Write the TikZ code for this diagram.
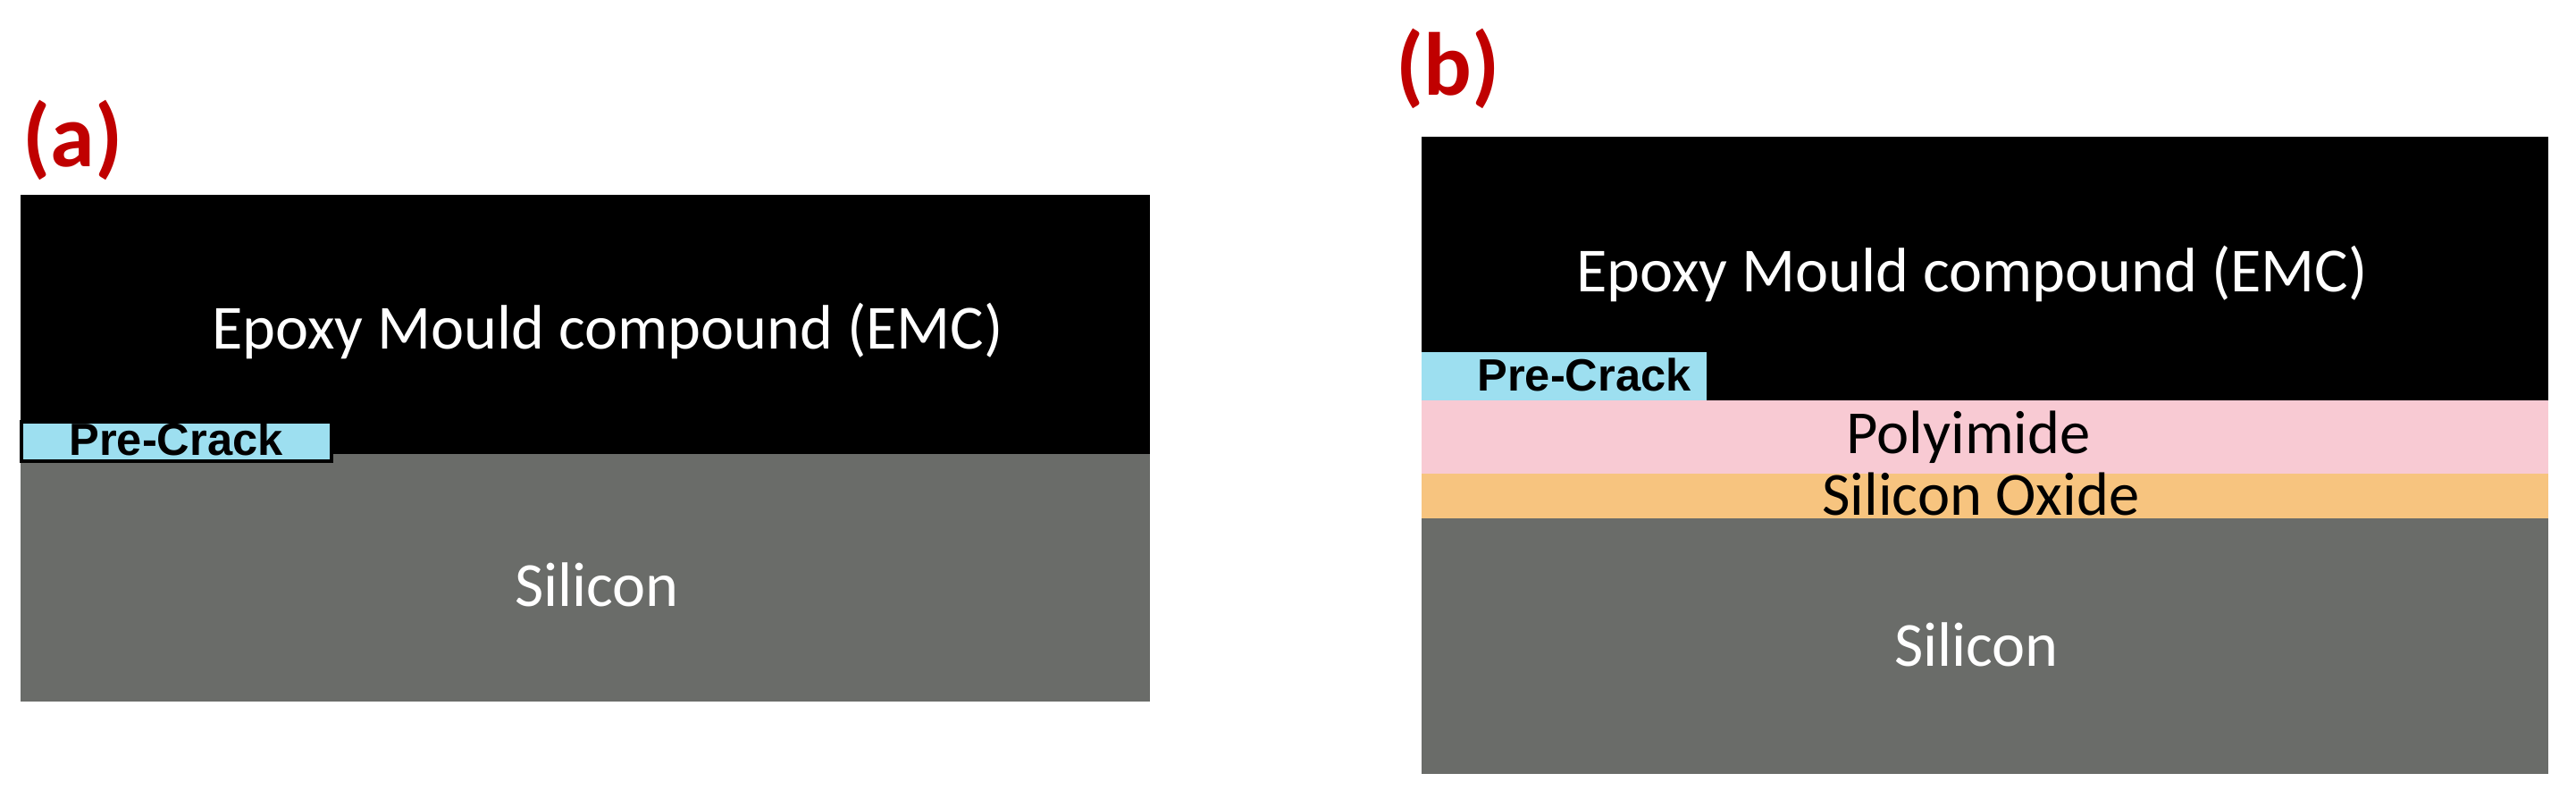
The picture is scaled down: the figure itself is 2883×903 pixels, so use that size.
\documentclass[tikz,border=0pt]{standalone}
\usepackage{fontspec}
\setmainfont{Carlito}
\newfontfamily\arialbold{Liberation Sans}[BoldFont={Liberation Sans Bold}]
\definecolor{emc}{HTML}{000000}
\definecolor{sil}{HTML}{6A6C69}
\definecolor{crack}{HTML}{9DDFF0}
\definecolor{poly}{HTML}{F8CAD3}
\definecolor{oxide}{HTML}{F7C47F}
\definecolor{lbl}{HTML}{C00000}
\tikzset{
  layertext/.style={text=white, font=\fontsize{20}{22}\selectfont, anchor=base, inner sep=0pt},
  darktext/.style={text=black, font=\fontsize{19.5}{21}\selectfont, anchor=base, inner sep=0pt},
  cracktext/.style={text=black, font=\arialbold\bfseries\fontsize{14.4}{16}\selectfont, anchor=base, inner sep=0pt},
  paneltag/.style={text=lbl, font=\bfseries\fontsize{28.5}{30}\selectfont, anchor=base west, inner sep=0pt}
}
\begin{document}
\begin{tikzpicture}[x=0.1mm,y=-0.1mm]
\useasboundingbox[fill=white] (0,0) rectangle (2883,903);
% ---- panel (a)
\fill[emc] (23,218) rectangle (1287,508);
\fill[sil] (23,508) rectangle (1287,785);
\filldraw[fill=crack, draw=black, line width=1.2pt] (24,472) rectangle (371,516);
\node[paneltag] (tagA) at (25,187) {(a)};
\node[layertext] (emcA) at (680,391) {Epoxy Mould compound (EMC)};
\node[layertext] (siA) at (668,678) {Silicon};
\node[cracktext] (pcA) at (197,509) {Pre-Crack};
% ---- panel (b)
\fill[emc] (1591,153) rectangle (2852,448);
\fill[crack] (1591,394) rectangle (1910,448);
\fill[poly] (1591,448) rectangle (2852,530);
\fill[oxide] (1591,530) rectangle (2852,580);
\fill[sil] (1591,580) rectangle (2852,866);
\node[paneltag] (tagB) at (1562,107) {(b)};
\node[layertext] (emcB) at (2207,327) {Epoxy Mould compound (EMC)};
\node[cracktext] (pcB) at (1773,437) {Pre-Crack};
\node[darktext] (poB) at (2203,508) {Polyimide};
\node[darktext] (oxB) at (2217,576) {Silicon Oxide};
\node[layertext] (siB) at (2212,745) {Silicon};
\end{tikzpicture}
\end{document}
